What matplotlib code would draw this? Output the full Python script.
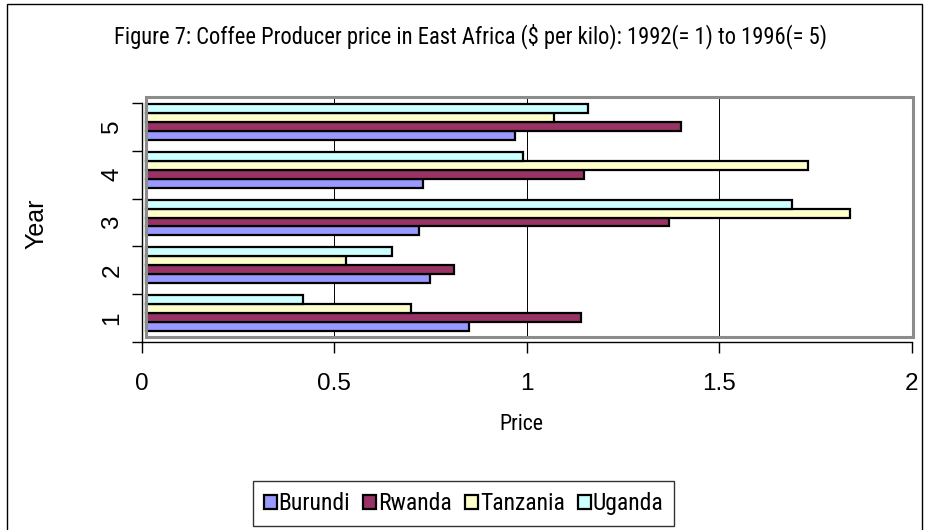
import matplotlib
matplotlib.use("Agg")
import matplotlib.pyplot as plt
import numpy as np
from matplotlib import font_manager
from matplotlib.font_manager import FontProperties
from matplotlib.patches import Rectangle
from matplotlib.transforms import offset_copy, blended_transform_factory

years = ["1", "2", "3", "4", "5"]
countries = ["Burundi", "Rwanda", "Tanzania", "Uganda"]
burundi = [0.84, 0.74, 0.71, 0.72, 0.96]
rwanda = [1.13, 0.80, 1.36, 1.14, 1.39]
tanzania = [0.69, 0.52, 1.83, 1.72, 1.06]
uganda = [0.41, 0.64, 1.68, 0.98, 1.15]
colors = ["#9999FF", "#993366", "#FFFFCC", "#CCFFFF"]
x_ticks = [0, 0.5, 1, 1.5, 2]
x_ticklabels = ["0", "0.5", "1", "1.5", "2"]

W, H, DPI = 931, 530, 100


def pick_narrow():
    pri = ["Liberation Sans Narrow", "Roboto Condensed", "Noto Sans", "Open Sans Condensed",
           "Open Sans", "DejaVu Sans"]
    best = None
    for f in font_manager.fontManager.ttflist:
        if f.style != "normal":
            continue
        if f.weight not in (400, "normal", "regular", "book"):
            continue
        narrow = f.name in ("Liberation Sans Narrow", "Roboto Condensed", "Open Sans Condensed") \
            or str(f.stretch) in ("condensed", "semi-condensed", "extra-condensed", "ultra-condensed")
        if not narrow:
            continue
        rank = pri.index(f.name) if f.name in pri else 99
        srank = 0 if str(f.stretch) in ("condensed", "normal") else 1
        key = (rank, srank)
        if best is None or key < best[0]:
            best = (key, f.fname)
    if best is None:
        return FontProperties(family="Liberation Sans")
    return FontProperties(fname=best[1])


NARROW = pick_narrow()
REG = "Liberation Sans"

fig = plt.figure(figsize=(W / DPI, H / DPI), dpi=DPI)


def fx(px):
    return px / W


def fy(py):
    return 1 - py / H


# outer chart border
fig.patches.append(Rectangle((fx(7), fy(535)), fx(922) - fx(7), fy(4) - fy(535),
                             transform=fig.transFigure, fill=False, edgecolor="black",
                             linewidth=1.0, zorder=0))

ax_l, ax_r, ax_t, ax_b = 141.5, 911.5, 102.7, 342.3
ax = fig.add_axes([fx(ax_l), fy(ax_b), fx(ax_r) - fx(ax_l), fy(ax_t) - fy(ax_b)])
ax.set_facecolor("none")
ax.set_xlim(0, 2)
ax.set_ylim(0.5, 5.5)

# gray plot-area frame
fig.patches.append(Rectangle((fx(145.7), fy(337)), fx(912.5) - fx(145.7), fy(97) - fy(337),
                             transform=fig.transFigure, fill=False, edgecolor="#8c8c8c",
                             linewidth=2.2, zorder=1))

# gridlines within frame
tr = blended_transform_factory(ax.transData, ax.transAxes)
y0 = (ax_b - 337) / (ax_b - ax_t)
y1 = (ax_b - 97) / (ax_b - ax_t)
for xv in x_ticks[1:]:
    ax.plot([xv, xv], [y0, y1], transform=tr, color="black", lw=0.7, clip_on=False, zorder=1)

series = [burundi, rwanda, tanzania, uganda]
h = 0.1875
pos = np.arange(1, len(years) + 1)
bar_tr = offset_copy(ax.transData, fig=fig, x=4, y=5, units="dots")
for i, (vals, c, name) in enumerate(zip(series, colors, countries)):
    ax.barh(pos + (i - 1.5) * h, vals, height=h, color=c, edgecolor="black",
            linewidth=1.6, transform=bar_tr, label=name, zorder=3, clip_on=False)

for s in ["top", "right"]:
    ax.spines[s].set_visible(False)
ax.spines["left"].set_linewidth(1.0)
ax.spines["bottom"].set_linewidth(1.0)

ax.set_xticks(x_ticks)
ax.set_xticklabels(x_ticklabels, fontfamily=REG, fontsize=17.5)
ax.tick_params(axis="x", length=8, width=1, direction="out", pad=14)

ax.set_yticks(pos)
ax.set_yticklabels(years, fontfamily=REG, fontsize=17.5, rotation=90, va="center")
ax.tick_params(axis="y", which="major", length=0, pad=13)
ax.set_yticks(np.arange(0.5, 6.0, 1.0), minor=True)
ax.tick_params(axis="y", which="minor", length=7, width=1, direction="out")

fig.text(fx(36), fy(224), "Year", rotation=90, ha="center", va="center",
         fontfamily=REG, fontsize=18)

renderer = fig.canvas.get_renderer()


def fit_text(x, y, s, target_w, ha="center"):
    fp = NARROW.copy()
    fp.set_size(12)
    t = fig.text(x, y, s, ha=ha, va="center", fontproperties=fp)
    w = t.get_window_extent(renderer).width
    t.set_fontsize(12 * target_w / w)
    return t


fit_text(fx(470), fy(36), "Figure 7: Coffee Producer price in East Africa ($ per kilo): 1992(= 1) to 1996(= 5)",
         712)
fit_text(fx(521), fy(425), "Price", 44)


def make_legend(size):
    lp = NARROW.copy()
    lp.set_size(size)
    return fig.legend(handles, labels, loc="center", bbox_to_anchor=(fx(463.5), fy(503.5)),
                      ncol=4, frameon=True, fancybox=False, edgecolor="black",
                      prop=lp, handlelength=0.55, handleheight=0.55,
                      handletextpad=0.08, columnspacing=0.55, borderpad=0.45, borderaxespad=0)


handles, labels = ax.get_legend_handles_labels()
size = 18.0
for _ in range(3):
    leg = make_legend(size)
    w = leg.get_window_extent(renderer).width
    leg.remove()
    size = size * 420 / w
leg = make_legend(size)
leg.get_frame().set_linewidth(1.0)

fig.savefig("out.png", dpi=DPI)
